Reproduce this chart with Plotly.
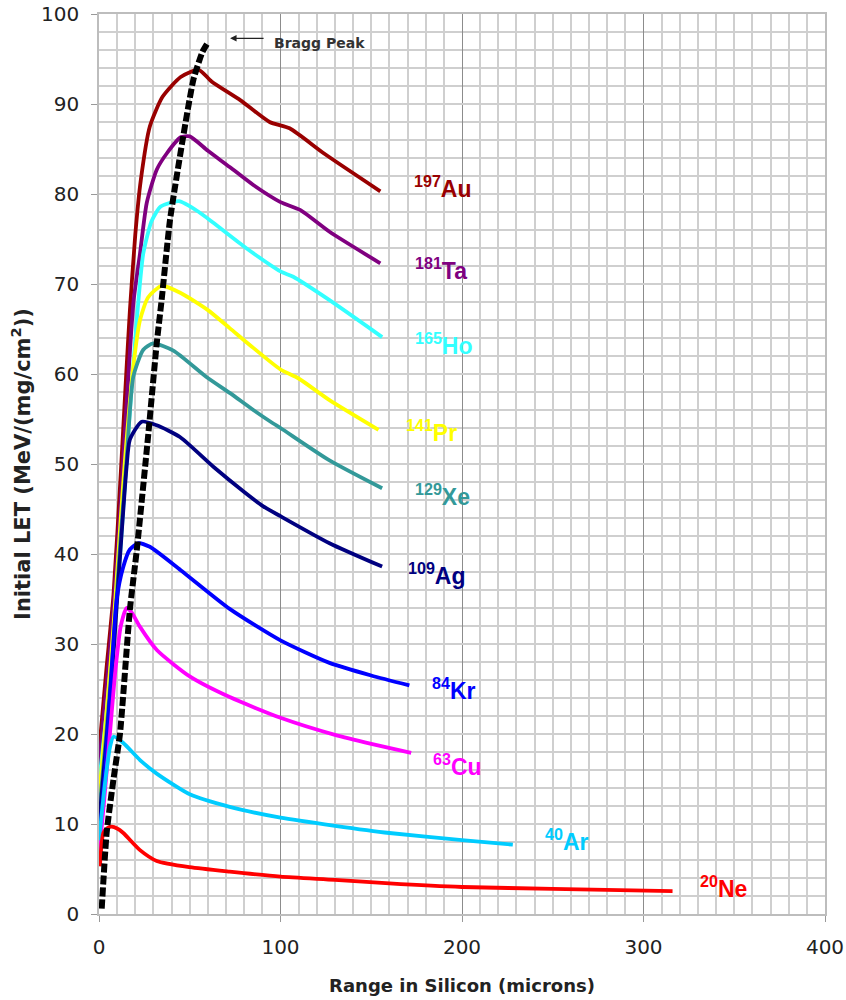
import plotly.graph_objects as go

# ---------------- data ----------------
au_x = [0, 4, 8, 12, 15, 17, 20, 23, 28, 35, 45, 55, 62, 78, 94, 105, 124, 155]
au_y = [18, 27, 35.5, 49, 60, 67, 75.5, 81.5, 87.5, 90.8, 93, 93.8, 92.5, 90.4, 88, 87.3, 84.5, 80.3]

ta_x = [0, 4, 8, 12, 15, 19, 22.6, 26.3, 31.8, 37.3, 45, 50, 60, 72, 85, 100, 111, 127, 155]
ta_y = [16.5, 25, 34, 46, 56, 68, 73.4, 79, 82.7, 84.5, 86.3, 86.4, 84.8, 83, 81, 79.1, 78.2, 75.8, 72.3]

ho_x = [0, 4, 8, 12, 16, 20.8, 24.4, 29, 34, 44, 55, 63, 81, 100, 107, 127, 156]
ho_y = [14.5, 22, 31, 41, 53, 66, 73.4, 77, 78.6, 79.2, 78.0, 76.8, 74.0, 71.4, 70.8, 68.2, 64.1]

pr_x = [0, 4, 8, 12, 14.3, 18.9, 22.6, 27, 34.5, 45, 60, 72, 85, 100, 110, 127, 154]
pr_y = [13, 22, 32, 44, 50.4, 60.8, 66, 68.5, 69.8, 69, 67.1, 65.1, 62.9, 60.5, 59.5, 57.1, 53.8]

xe_x = [0, 4, 8, 12, 15.2, 18.9, 24.4, 29.9, 41, 59, 72, 85, 96, 100, 127, 156]
xe_y = [11, 20, 30, 42, 50.4, 59.7, 62.7, 63.4, 62.6, 59.7, 57.9, 56.0, 54.5, 54.0, 50.4, 47.3]

ag_x = [0, 4, 8, 11, 15.2, 17, 23.5, 31.8, 44.6, 63, 80, 90.5, 100, 127, 156]
ag_y = [10, 19, 29, 38, 49.7, 52.7, 54.7, 54.3, 53.0, 49.7, 46.9, 45.3, 44.2, 41.2, 38.6]

kr_x = [0, 3, 6, 9.7, 13.4, 17, 21.7, 28, 45, 72, 100, 127, 150, 171]
kr_y = [8, 15, 24, 34.9, 38.6, 40.5, 41.2, 40.8, 38.2, 33.9, 30.4, 27.9, 26.5, 25.4]

cu_x = [0, 3, 6, 9, 12, 15.2, 18, 22.6, 32, 50, 72, 100, 130, 150, 172]
cu_y = [6.5, 13, 20, 27, 32, 34, 33.5, 31.9, 29.3, 26.4, 24.1, 21.8, 19.9, 18.9, 17.9]

ar_x = [0, 3.3, 6, 8, 13.4, 22.6, 31.8, 50, 72, 100, 130, 160, 200, 228]
ar_y = [8.2, 14.5, 18.5, 19.7, 19, 17.1, 15.6, 13.3, 11.9, 10.7, 9.8, 9.0, 8.2, 7.7]

ne_x = [0.5, 2.4, 5, 7, 10, 13.4, 22.6, 31.8, 50, 72, 100, 130, 160, 200, 250, 316]
ne_y = [5.3, 9.0, 9.6, 9.7, 9.5, 9.0, 7.1, 5.9, 5.2, 4.7, 4.15, 3.8, 3.4, 3.0, 2.8, 2.55]

bragg_x = [1.5, 4.2, 8, 11.6, 17, 20.8, 27.2, 31.8, 34.5, 39.1, 46.4, 52, 57, 60.2]
bragg_y = [0.6, 9, 15, 20.1, 33.8, 40.4, 53.4, 63.4, 68.2, 77.1, 86.4, 92.7, 95.8, 96.9]

ions = ["Au", "Ta", "Ho", "Pr", "Xe", "Ag", "Kr", "Cu", "Ar", "Ne"]
masses = ["197", "181", "165", "141", "129", "109", "84", "63", "40", "20"]
colors = ["#990000", "#800080", "#33FFFF", "#FFFF00", "#339999",
          "#000080", "#0000FF", "#FF00FF", "#00CCFF", "#FF0000"]
series_x = [au_x, ta_x, ho_x, pr_x, xe_x, ag_x, kr_x, cu_x, ar_x, ne_x]
series_y = [au_y, ta_y, ho_y, pr_y, xe_y, ag_y, kr_y, cu_y, ar_y, ne_y]

# label anchor positions (data coordinates)
label_x = [172.5, 173, 173, 168, 173, 169, 182.4, 183, 244.6, 330]
label_y = [80.4, 71.3, 63.0, 53.3, 46.2, 37.4, 24.7, 16.2, 7.9, 2.7]

fig = go.Figure()
for xs, ys, c, name in zip(series_x, series_y, colors, ions):
    fig.add_trace(go.Scatter(x=xs, y=ys, mode="lines", name=name,
                             line=dict(color=c, width=3.8, shape="spline", smoothing=0.6),
                             showlegend=False, hoverinfo="skip"))

fig.add_trace(go.Scatter(x=bragg_x, y=bragg_y, mode="lines", name="Bragg Peak",
                         line=dict(color="black", width=6, dash="9px,3px", shape="spline", smoothing=0.5),
                         showlegend=False, hoverinfo="skip"))

for m, ion, c, lx, ly in zip(masses, ions, colors, label_x, label_y):
    fig.add_annotation(x=lx, y=ly, xref="x", yref="y", xanchor="left", yanchor="middle",
                       text=f"<b><sup>{m}</sup>{ion}</b>", showarrow=False, yshift=3,
                       font=dict(family="Liberation Sans, Arial", size=23, color=c))

# Bragg Peak arrow + label
fig.add_annotation(x=72.2, y=97.3, ax=91.5, ay=97.3, xref="x", yref="y", axref="x", ayref="y",
                   text="", showarrow=True, arrowhead=2, arrowsize=1, arrowwidth=1.3, arrowcolor="#222")
fig.add_annotation(x=95.3, y=96.8, xref="x", yref="y", xanchor="left", yanchor="middle",
                   text="<b>Bragg Peak</b>", showarrow=False,
                   font=dict(family="DejaVu Sans", size=14, color="#333"))

fig.update_layout(
    width=846, height=1000,
    margin=dict(l=99, r=21, t=14, b=86),
    plot_bgcolor="white", paper_bgcolor="white",
    font=dict(family="DejaVu Sans", color="#222"),
    xaxis=dict(range=[0, 400], dtick=100, tick0=0, showgrid=True, gridcolor="#8C8C8C", gridwidth=1,
               minor=dict(dtick=10, showgrid=True, gridcolor="#CFCFCF", gridwidth=1.5),
               ticks="outside", ticklen=6, tickcolor="#999", zeroline=False, automargin=False,
               showline=True, linecolor="#BDBDBD", linewidth=1.5, mirror=True,
               ticklabelstandoff=8,
               tickfont=dict(family="DejaVu Sans", size=20, color="#222"),
               title=dict(text="<b>Range in Silicon (microns)</b>",
                          font=dict(family="DejaVu Sans", size=18, color="#222"), standoff=22)),
    yaxis=dict(range=[0, 100], dtick=10, tick0=0, showgrid=True, gridcolor="#CFCFCF", gridwidth=1.5,
               minor=dict(dtick=2, showgrid=True, gridcolor="#CFCFCF", gridwidth=1.5),
               ticks="outside", ticklen=6, tickcolor="#999", zeroline=False, automargin=False,
               showline=True, linecolor="#BDBDBD", linewidth=1.5, mirror=True,
               ticklabelstandoff=8,
               tickfont=dict(family="DejaVu Sans", size=20, color="#222"),
               title=dict(text="<b>Initial LET (MeV/(mg/cm<sup>2</sup>))</b>",
                          font=dict(family="DejaVu Sans", size=21, color="#222"), standoff=5)),
)

fig.write_html("out.html")
